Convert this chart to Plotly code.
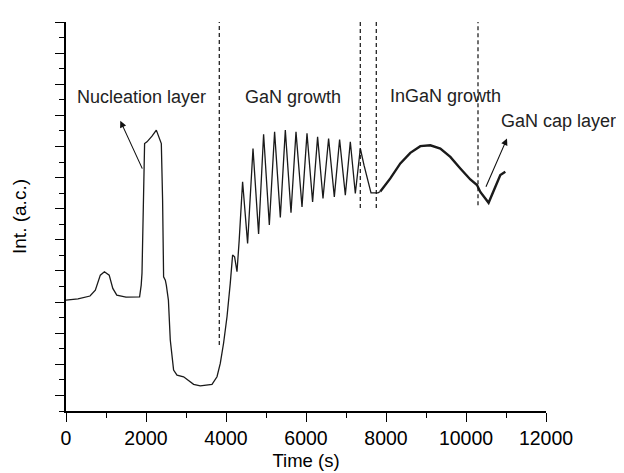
import plotly.graph_objects as go

# Main reflectance trace (time in s, intensity in arbitrary units)
time_s = [0, 300, 600, 733, 858, 960, 1080, 1170, 1270, 1500, 1840, 1880, 1900, 1940, 1965,
          2025, 2065, 2150, 2258, 2340, 2383, 2415, 2440, 2483, 2508, 2560, 2607, 2690, 2775,
          2940, 3080, 3190, 3357, 3650, 3775, 3857, 3940, 4025, 4107, 4165, 4215, 4275, 4330,
          4415, 4540, 4675, 4815, 4940, 5083, 5215, 5358, 5483, 5625, 5750, 5900, 6025, 6165,
          6290, 6425, 6565, 6708, 6840, 6983, 7108, 7233, 7358, 7450, 7625, 7800, 7858]
intensity = [7.13, 7.20, 7.39, 7.77, 8.73, 8.95, 8.73, 7.88, 7.45, 7.32, 7.34, 8.09, 8.86, 15.05, 17.19,
             17.30, 17.41, 17.66, 18.05, 17.51, 17.19, 13.55, 8.63, 8.41, 8.09, 7.13, 4.56, 2.63, 2.31,
             2.20, 1.93, 1.71, 1.61, 1.71, 2.20, 3.06, 4.37, 6.06, 8.22, 10.02, 9.91, 8.95, 10.98,
             14.73, 10.77, 16.87, 11.37, 17.79, 11.95, 17.94, 12.44, 18.05, 12.74, 17.94, 13.12, 17.84, 13.44,
             17.62, 13.66, 17.51, 13.76, 17.45, 13.87, 17.30, 13.98, 16.87, 15.80, 14.02, 14.02, 14.11]

# InGaN growth + GaN cap (thicker, noisier part of the trace)
time_ingan = [7858, 8108, 8358, 8608, 8858, 9108, 9358, 9608, 9858, 10108, 10275, 10358,
              10565, 10733, 10858, 10983]
intensity_ingan = [14.11, 14.95, 15.91, 16.59, 17.02, 17.08, 16.87, 16.33, 15.59, 14.88, 14.52, 14.08,
                   13.38, 14.41, 15.16, 15.37]

# Layer boundaries (dashed lines): x, y_bottom, y_top
boundary_x = [3832, 7357, 7757, 10300]
boundary_ybot = [4.24, 13.04, 13.04, 13.23]
boundary_ytop = [25.18, 25.75, 25.75, 25.75]

# Labels: text, x, y
label_text = ["Nucleation layer", "GaN growth", "InGaN growth", "GaN cap layer"]
label_x = [232, 4432, 8058, 10833]
label_y = [20.17, 20.17, 20.23, 18.63]

# Arrows: head (x, y), tail (x, y)
arrow_head_x = [1358, 11025]
arrow_head_y = [18.65, 17.51]
arrow_tail_x = [1925, 10483]
arrow_tail_y = [15.48, 14.32]

line_color = "#1a1a1a"
font_family = "Liberation Sans, Arial, sans-serif"

fig = go.Figure()
fig.add_trace(go.Scatter(x=time_s, y=intensity, mode="lines",
                         line=dict(color=line_color, width=1.3), showlegend=False, cliponaxis=False))
fig.add_trace(go.Scatter(x=time_ingan, y=intensity_ingan, mode="lines",
                         line=dict(color=line_color, width=2.4), showlegend=False, cliponaxis=False))

for bx, yb, yt in zip(boundary_x, boundary_ybot, boundary_ytop):
    fig.add_shape(type="line", xref="x", yref="y", x0=bx, x1=bx, y0=yb, y1=yt,
                  line=dict(color="#111111", width=1.2, dash="4px,3px"))

for t, lx, ly in zip(label_text, label_x, label_y):
    fig.add_annotation(x=lx, y=ly, xref="x", yref="y", text=t, showarrow=False,
                       xanchor="left", yanchor="middle",
                       font=dict(family=font_family, size=18, color="#222222"))

for hx, hy, tx, ty in zip(arrow_head_x, arrow_head_y, arrow_tail_x, arrow_tail_y):
    fig.add_annotation(x=hx, y=hy, xref="x", yref="y", ax=tx, ay=ty, axref="x", ayref="y",
                       text="", showarrow=True, arrowhead=2, arrowsize=1.2, arrowwidth=1.1,
                       arrowcolor="#111111")

fig.update_layout(
    width=616, height=465,
    margin=dict(l=58, r=78, t=14, b=62, autoexpand=False),
    paper_bgcolor="white", plot_bgcolor="white",
    font=dict(family=font_family, color="black"),
    showlegend=False,
)
fig.update_xaxes(
    range=[0, 12000], tickmode="linear", tick0=0, dtick=2000, tickformat="d",
    ticks="outside", ticklen=9, tickwidth=1.3, tickcolor="black",
    minor=dict(dtick=1000, ticklen=5, tickwidth=1.2, tickcolor="black", ticks="outside"),
    showline=True, linecolor="black", linewidth=1.5, showgrid=False, zeroline=False,
    automargin=False,
    tickfont=dict(family=font_family, size=19.5, color="black"),
    title=dict(text="Time (s)", font=dict(family=font_family, size=18.5, color="black"), standoff=6),
)
fig.update_yaxes(
    range=[0, 25], tickmode="linear", tick0=1, dtick=2,
    ticks="outside", ticklen=9, tickwidth=1.3, tickcolor="black",
    minor=dict(dtick=1, ticklen=5, tickwidth=1.2, tickcolor="black", ticks="outside"),
    showline=True, linecolor="black", linewidth=1.5, showgrid=False, zeroline=False,
    showticklabels=False, automargin=False,
    title=dict(text="Int. (a.c.)", font=dict(family=font_family, size=19, color="black"), standoff=24),
)

fig.write_html("out.html")
